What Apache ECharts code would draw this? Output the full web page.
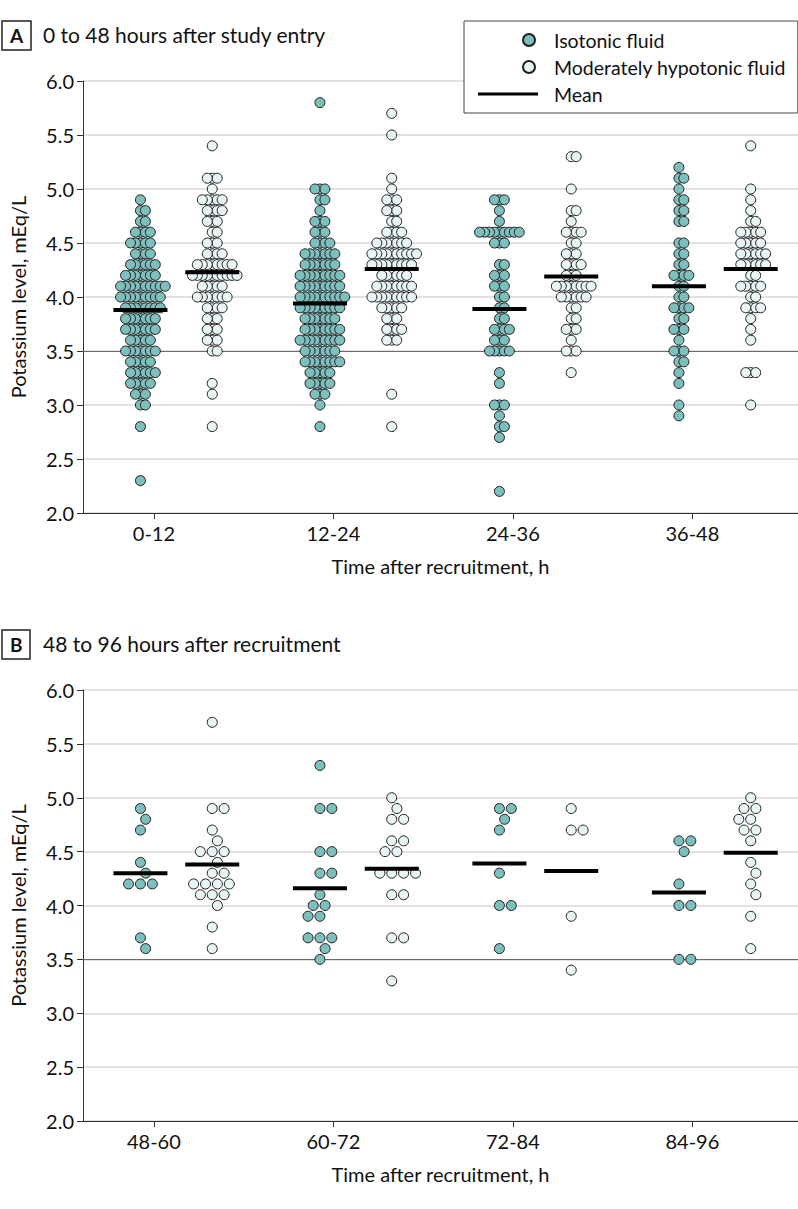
<!DOCTYPE html>
<html>
<head>
<meta charset="utf-8">
<script src="https://cdn.jsdelivr.net/npm/echarts@6/dist/echarts.min.js"></script>
<style>
  html, body { margin: 0; padding: 0; background: #fff; }
  #chart { width: 798px; height: 1209px; }
</style>
</head>
<body>
<div id="chart"></div>
<script>
// categories (time windows)
var categoriesA = ['0-12', '12-24', '24-36', '36-48'];
var categoriesB = ['48-60', '60-72', '72-84', '84-96'];

// [potassium mEq/L, number of children] per group, read row by row
var isoA = [
  [[2.3,1],[2.8,1],[3.0,2],[3.1,3],[3.2,5],[3.3,6],[3.4,5],[3.5,7],[3.6,5],[3.7,7],[3.8,7],[3.9,8],[4.0,9],[4.1,10],[4.2,7],[4.3,6],[4.4,4],[4.5,5],[4.6,4],[4.7,2],[4.8,2],[4.9,1]],
  [[2.8,1],[3.0,1],[3.1,3],[3.2,5],[3.3,5],[3.4,8],[3.5,7],[3.6,9],[3.7,8],[3.8,7],[3.9,9],[4.0,10],[4.1,9],[4.2,9],[4.3,7],[4.4,7],[4.5,4],[4.6,3],[4.7,3],[4.8,1],[4.9,2],[5.0,3],[5.8,1]],
  [[2.2,1],[2.7,1],[2.8,2],[2.9,1],[3.0,3],[3.2,1],[3.3,1],[3.5,5],[3.6,3],[3.7,4],[3.8,2],[3.9,2],[4.0,2],[4.1,3],[4.2,3],[4.3,2],[4.5,3],[4.6,9],[4.7,1],[4.8,1],[4.9,3]],
  [[2.9,1],[3.0,1],[3.2,1],[3.3,1],[3.4,2],[3.5,3],[3.6,1],[3.7,3],[3.8,2],[3.9,4],[4.0,2],[4.1,2],[4.2,4],[4.3,2],[4.4,2],[4.5,2],[4.7,2],[4.8,2],[4.9,2],[5.0,1],[5.1,2],[5.2,1]]
];
var hypoA = [
  [[2.8,1],[3.1,1],[3.2,1],[3.5,2],[3.6,3],[3.7,3],[3.8,3],[3.9,4],[4.0,7],[4.1,5],[4.2,10],[4.3,8],[4.4,4],[4.5,3],[4.6,2],[4.7,3],[4.8,4],[4.9,5],[5.0,1],[5.1,3],[5.4,1]],
  [[2.8,1],[3.1,1],[3.6,3],[3.7,4],[3.8,3],[3.9,5],[4.0,9],[4.1,8],[4.2,6],[4.3,9],[4.4,10],[4.5,7],[4.6,4],[4.7,2],[4.8,3],[4.9,3],[5.0,1],[5.1,1],[5.5,1],[5.7,1]],
  [[3.3,1],[3.5,3],[3.6,1],[3.7,3],[3.8,2],[3.9,2],[4.0,6],[4.1,8],[4.2,3],[4.3,4],[4.4,3],[4.5,2],[4.6,4],[4.7,1],[4.8,2],[5.0,1],[5.3,2]],
  [[3.0,1],[3.3,3],[3.6,1],[3.7,1],[3.8,1],[3.9,4],[4.0,2],[4.1,5],[4.2,2],[4.3,6],[4.4,6],[4.5,5],[4.6,5],[4.7,2],[4.8,1],[4.9,1],[5.0,1],[5.4,1]]
];
var isoB = [
  [[3.6,1],[3.7,1],[4.2,3],[4.3,1],[4.4,1],[4.7,1],[4.8,1],[4.9,1]],
  [[3.5,1],[3.6,1],[3.7,3],[3.9,2],[4.0,2],[4.1,1],[4.3,2],[4.5,2],[4.9,2],[5.3,1]],
  [[3.6,1],[4.0,2],[4.3,1],[4.7,1],[4.8,1],[4.9,2]],
  [[3.5,2],[4.0,2],[4.2,1],[4.5,1],[4.6,2]]
];
var hypoB = [
  [[3.6,1],[3.8,1],[4.0,1],[4.1,3],[4.2,4],[4.3,2],[4.4,1],[4.5,3],[4.6,1],[4.7,1],[4.9,2],[5.7,1]],
  [[3.3,1],[3.7,2],[4.1,2],[4.3,4],[4.5,2],[4.6,2],[4.8,2],[4.9,1],[5.0,1]],
  [[3.4,1],[3.9,1],[4.7,2],[4.9,1]],
  [[3.6,1],[3.9,1],[4.1,1],[4.2,1],[4.3,1],[4.4,1],[4.6,1],[4.7,2],[4.8,2],[4.9,2],[5.0,1]]
];

// group means as drawn
var meanIsoA = [3.88, 3.94, 3.89, 4.10];
var meanHypoA = [4.23, 4.26, 4.19, 4.26];
var meanIsoB = [4.30, 4.16, 4.39, 4.12];
var meanHypoB = [4.38, 4.34, 4.32, 4.49];

var TEAL = '#7dbfbd';
var PALE = '#e9f5f5';
var EDGE = '#1e1e1e';
var FONT = 'Lato';
var FS = 20;

var GRID_LEFT = 77, GRID_W = 721, PX_PER_X = 181, PX_PER_Y = 108;
var X_MIN = -0.52, X_MAX = X_MIN + GRID_W / PX_PER_X;
var SHIFT = 0.2;
var LABEL_SHIFT = -0.125;

// greedy beeswarm, offsets in pixels
function swarmOffsets(vals, d) {
  var placed = [];
  return vals.map(function (v) {
    var y = v * PX_PER_Y;
    var cands = [0];
    placed.forEach(function (p) {
      var dy = Math.abs(p.y - y);
      if (dy < d) {
        var dx = Math.sqrt(d * d - dy * dy);
        cands.push(p.x + dx, p.x - dx);
      }
    });
    cands.sort(function (a, b) { return Math.abs(a) - Math.abs(b); });
    var best = 0;
    for (var i = 0; i < cands.length; i++) {
      var c = cands[i];
      var free = placed.every(function (p) {
        var dx = p.x - c, dy = p.y - y;
        return dx * dx + dy * dy >= d * d - 1e-6;
      });
      if (free) { best = c; break; }
    }
    placed.push({ x: best, y: y });
    return best;
  });
}

function groupPoints(groups, side, d) {
  var out = [];
  groups.forEach(function (rows, idx) {
    var vals = [];
    rows.forEach(function (r) { for (var k = 0; k < r[1]; k++) vals.push(r[0]); });
    vals.sort(function (a, b) { return b - a; });
    var offs = swarmOffsets(vals, d);
    vals.forEach(function (v, i) {
      out.push([idx + side * SHIFT + offs[i] / PX_PER_X, v]);
    });
  });
  return out;
}

function meanPoints(means, side) {
  return means.map(function (m, idx) { return [idx + side * SHIFT, m]; });
}

var circleIcon = 'path://M0,0M71,12M45,6a6,6 0 1,0 12,0a6,6 0 1,0 -12,0z';
var lineIcon = 'path://M0,0M71,12M0,4.5h60v3h-60z';

function xAxisFor(gi, cats) {
  var pos = cats.map(function (c, i) { return i + LABEL_SHIFT; });
  return {
    gridIndex: gi, type: 'value', min: X_MIN, max: X_MAX,
    splitLine: { show: false },
    axisLine: { onZero: false, lineStyle: { color: '#333', width: 1 } },
    axisTick: { show: true, customValues: pos, length: 6, lineStyle: { color: '#333' } },
    axisLabel: {
      customValues: pos, fontSize: FS, color: '#111', margin: 10, fontFamily: FONT,
      formatter: function (v) { return cats[Math.round(v - LABEL_SHIFT)]; }
    },
    name: 'Time after recruitment, h', nameLocation: 'middle', nameGap: 43,
    nameTextStyle: { fontSize: FS, color: '#111', fontFamily: FONT }
  };
}

function yAxisFor(gi) {
  return {
    gridIndex: gi, type: 'value', min: 2, max: 6, interval: 0.5,
    axisLine: { show: true, onZero: false, lineStyle: { color: '#333', width: 1 } },
    axisTick: { show: true, length: 6, lineStyle: { color: '#333' } },
    axisLabel: { fontSize: FS, color: '#111', margin: 9, fontFamily: FONT,
      formatter: function (v) { return v.toFixed(1); } },
    splitLine: { lineStyle: { color: '#d9d9d9', width: 1.5 } },
    name: 'Potassium level, mEq/L', nameLocation: 'middle', nameGap: 55,
    nameTextStyle: { fontSize: FS, color: '#111', fontFamily: FONT }
  };
}

function panelSeries(gi, iso, hypo, mIso, mHypo, d) {
  var dot = { type: 'scatter', xAxisIndex: gi, yAxisIndex: gi, symbolSize: 10, z: 3 };
  return [
    Object.assign({}, dot, {
      name: 'Isotonic fluid',
      itemStyle: { color: TEAL, borderColor: EDGE, borderWidth: 1, opacity: 1 },
      data: groupPoints(iso, -1, d),
      markLine: {
        silent: true, symbol: 'none', label: { show: false },
        lineStyle: { color: '#6b6b6b', width: 1.2, type: 'solid' },
        data: [{ yAxis: 3.5 }], z: 1
      }
    }),
    Object.assign({}, dot, {
      name: 'Moderately hypotonic fluid',
      itemStyle: { color: PALE, borderColor: EDGE, borderWidth: 1, opacity: 1 },
      data: groupPoints(hypo, 1, d)
    }),
    {
      type: 'scatter', name: 'Mean', xAxisIndex: gi, yAxisIndex: gi,
      symbol: 'rect', symbolSize: [54, 4], z: 5,
      itemStyle: { color: '#000', opacity: 1 },
      data: meanPoints(mIso, -1).concat(meanPoints(mHypo, 1))
    }
  ];
}

var chart = echarts.init(document.getElementById('chart'), null, { renderer: 'svg' });
chart.setOption({
  animation: false,
  textStyle: { fontFamily: FONT },
  title: [
    { text: 'A', left: 2, top: 21, padding: [5, 8], borderColor: '#222', borderWidth: 1.5,
      textStyle: { fontSize: 19, fontWeight: 'bold', color: '#111', fontFamily: FONT } },
    { text: '0 to 48 hours after study entry', left: 43, top: 24, padding: 0,
      textStyle: { fontSize: 21, fontWeight: 'normal', color: '#111', fontFamily: FONT } },
    { text: 'B', left: 2, top: 630, padding: [5, 8], borderColor: '#222', borderWidth: 1.5,
      textStyle: { fontSize: 19, fontWeight: 'bold', color: '#111', fontFamily: FONT } },
    { text: '48 to 96 hours after recruitment', left: 43, top: 633, padding: 0,
      textStyle: { fontSize: 21, fontWeight: 'normal', color: '#111', fontFamily: FONT } }
  ],
  legend: {
    data: [
      { name: 'Isotonic fluid', icon: circleIcon },
      { name: 'Moderately hypotonic fluid', icon: circleIcon },
      { name: 'Mean', icon: lineIcon }
    ],
    orient: 'vertical', left: 464, top: 21,
    itemWidth: 71, itemHeight: 12, itemGap: 7,
    padding: [9, 12, 9, 13],
    borderColor: '#444', borderWidth: 1,
    backgroundColor: '#fff',
    selectedMode: false,
    textStyle: { fontSize: 19.5, color: '#111', lineHeight: 19, fontFamily: FONT }
  },
  grid: [
    { left: GRID_LEFT, top: 81, width: GRID_W, height: 432 },
    { left: GRID_LEFT, top: 690, width: GRID_W, height: 431 }
  ],
  xAxis: [xAxisFor(0, categoriesA), xAxisFor(1, categoriesB)],
  yAxis: [yAxisFor(0), yAxisFor(1)],
  series: panelSeries(0, isoA, hypoA, meanIsoA, meanHypoA, 5)
    .concat(panelSeries(1, isoB, hypoB, meanIsoB, meanHypoB, 12))
});
window.addEventListener('resize', function () { chart.resize(); });
</script>
</body>
</html>
